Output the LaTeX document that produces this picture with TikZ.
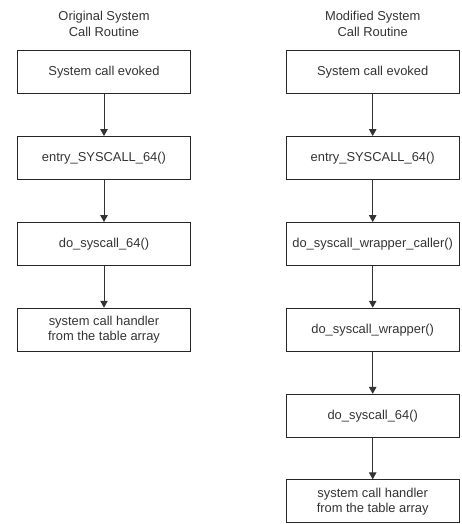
\documentclass[tikz,border=0pt]{standalone}
\usepackage{fontspec}
\setmainfont{Liberation Sans}
\usetikzlibrary{arrows.meta}
\begin{document}
\begin{tikzpicture}[x=1pt,y=-1pt,
  box/.style={draw=black!85, line width=0.9pt, minimum width=173.4pt, minimum height=43pt, inner sep=0pt, align=center, font=\fontsize{12.9}{15}\selectfont, text=black!80},
  title/.style={align=center, font=\fontsize{12.9}{16.3}\selectfont, text=black!80},
  arr/.style={draw=black!80, line width=1pt, -{Triangle[length=7pt,width=7.5pt]}}]
\useasboundingbox (0,0) rectangle (461,524);
% left column
\node[title] (tl) at (104,24) {Original System\\Call Routine};
\node[box] (l1) at (104,72) {System call evoked};
\node[box] (l2) at (104,158) {entry\_SYSCALL\_64()};
\node[box] (l3) at (104,244) {do\_syscall\_64()};
\node[box] (l4) at (104,329.7) {system call handler\\from the table array};
\draw[arr] (l1) -- (l2);
\draw[arr] (l2) -- (l3);
\draw[arr] (l3) -- (l4);
% right column
\node[title] (tr) at (372.7,24) {Modified System\\Call Routine};
\node[box] (r1) at (372.7,72) {System call evoked};
\node[box] (r2) at (372.7,158) {entry\_SYSCALL\_64()};
\node[box] (r3) at (372.7,244) {do\_syscall\_wrapper\_caller()};
\node[box] (r4) at (372.7,329.7) {do\_syscall\_wrapper()};
\node[box] (r5) at (372.7,415.8) {do\_syscall\_64()};
\node[box] (r6) at (372.7,501.3) {system call handler\\from the table array};
\draw[arr] (r1) -- (r2);
\draw[arr] (r2) -- (r3);
\draw[arr] (r3) -- (r4);
\draw[arr] (r4) -- (r5);
\draw[arr] (r5) -- (r6);
\end{tikzpicture}
\end{document}
